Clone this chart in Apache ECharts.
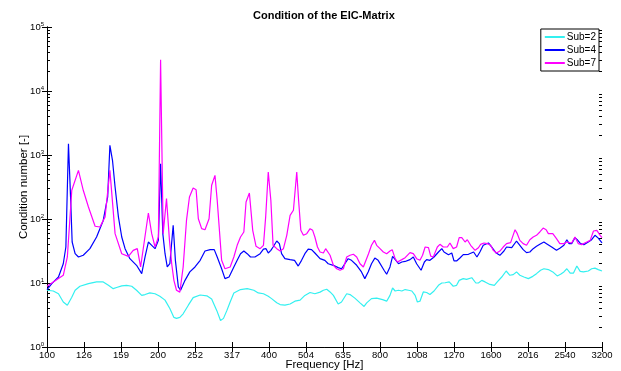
<!DOCTYPE html>
<html>
<head>
<meta charset="utf-8">
<script src="https://cdn.jsdelivr.net/npm/echarts@6/dist/echarts.min.js"></script>
<style>
html,body{margin:0;padding:0;background:#fff;}
#chart{width:621px;height:371px;}
</style>
</head>
<body>
<div id="chart"></div>
<script>
// x = position on the third-octave frequency axis (0 = 100 Hz, 15 = 3200 Hz)
var tickLabels = ['100','126','159','200','252','317','400','504','635','800','1008','1270','1600','2016','2540','3200'];
var seriesNames = ['Sub=2','Sub=4','Sub=7'];
var seriesColors = ['#33f0f0','#0000ff','#ff00ff'];

var sub2 = [[0,7.7],[0.17,7.5],[0.31,6.8],[0.44,5.05],[0.55,4.5],[0.60,4.6],[0.67,6.0],[0.76,7.7],[0.89,8.9],[1.12,9.8],
  [1.34,10.4],[1.52,10.4],[1.66,9.2],[1.79,8.15],[1.88,8.5],[2.02,9.0],[2.15,9.2],[2.29,8.9],[2.42,7.7],[2.56,6.4],
  [2.65,6.6],[2.78,7.0],[2.92,6.8],[3.05,6.2],[3.19,5.4],[3.32,4.0],[3.43,2.9],[3.50,2.8],[3.59,2.9],[3.68,3.3],
  [3.82,4.5],[3.95,5.9],[4.14,6.5],[4.32,6.3],[4.45,5.6],[4.59,3.7],[4.69,2.6],[4.77,2.8],[4.86,3.7],[4.95,5.05],
  [5.05,7.0],[5.23,7.9],[5.41,8.15],[5.59,7.7],[5.71,7.0],[5.85,6.8],[5.98,6.2],[6.07,5.7],[6.21,4.9],[6.30,4.6],
  [6.43,4.5],[6.57,4.7],[6.70,5.2],[6.84,5.4],[6.97,6.4],[7.11,7.1],[7.24,6.8],[7.38,7.2],[7.47,7.7],[7.56,8.0],
  [7.65,7.25],[7.74,6.4],[7.87,4.7],[7.96,5.05],[8.10,6.8],[8.19,6.6],[8.32,5.8],[8.46,4.9],[8.57,4.3],[8.64,4.9],
  [8.77,5.7],[8.91,5.8],[9.07,5.5],[9.18,5.2],[9.27,6.4],[9.34,8.35],[9.41,7.5],[9.50,7.7],[9.59,7.5],[9.68,7.9],
  [9.77,7.7],[9.86,7.5],[9.95,6.4],[10.01,5.05],[10.08,5.2],[10.17,7.25],[10.26,7.1],[10.35,6.6],[10.46,7.5],[10.58,9.2],
  [10.67,10],[10.76,10.1],[10.87,10.4],[10.98,8.9],[11.07,9.2],[11.14,11],[11.25,11.7],[11.34,11.4],[11.48,12.1],[11.59,10],
  [11.66,10],[11.75,11],[11.84,10.4],[11.97,9.5],[12.09,9.2],[12.17,10.4],[12.29,12.4],[12.41,15.4],[12.51,13.2],[12.60,13.5],
  [12.69,14.9],[12.78,13.2],[12.89,12.4],[13.01,11.7],[13.13,12.7],[13.23,14],[13.34,15.8],[13.43,16.7],[13.55,16.2],[13.67,14.9],
  [13.79,12.9],[13.88,13.7],[13.97,14.9],[14.05,16.7],[14.14,14.3],[14.23,14.3],[14.32,18.4],[14.41,15.2],[14.50,14.9],[14.63,15.4],
  [14.72,16.7],[14.81,17.1],[14.90,16.2],[15,15.4]];

var sub4 = [[0,7.9],[0.13,9.8],[0.31,12.4],[0.44,20],[0.51,36.5],[0.58,1500],[0.64,196],[0.68,43.7],[0.76,28.7],[0.85,25.5],
  [0.98,27.1],[1.16,34.4],[1.34,52.3],[1.52,95],[1.64,221],[1.70,1416],[1.77,826],[1.84,316],[1.93,108],[2.02,52.3],
  [2.11,34.4],[2.24,24],[2.42,18.9],[2.56,14],[2.65,25.5],[2.74,43.7],[2.83,38.8],[2.92,34.4],[3.01,46.4],[3.07,732],
  [3.13,59],[3.19,28.7],[3.25,17.8],[3.32,20],[3.41,79.6],[3.47,22.6],[3.55,8.7],[3.61,7.7],[3.73,11],[3.86,14.9],
  [4.0,17.8],[4.14,22.6],[4.27,31.6],[4.41,33.2],[4.52,33.2],[4.60,25.5],[4.72,16.7],[4.81,11.7],[4.92,12.4],[5.05,17.8],
  [5.14,22.6],[5.23,28.7],[5.32,31.6],[5.41,28.7],[5.50,25.5],[5.62,25.5],[5.76,28.7],[5.85,33.8],[5.92,34.4],[5.98,29.4],
  [6.05,32.4],[6.11,36.5],[6.21,45.3],[6.28,41.2],[6.34,28.7],[6.43,24],[6.57,23.2],[6.69,22.6],[6.79,18.4],[6.88,22.6],
  [6.97,28.7],[7.06,33.8],[7.15,33.2],[7.24,29.4],[7.38,24],[7.51,22.6],[7.60,20],[7.74,18.9],[7.87,17.4],[7.96,16.7],
  [8.05,20],[8.14,24],[8.23,22.6],[8.37,18.9],[8.50,14.9],[8.59,11.7],[8.68,14.9],[8.77,20],[8.86,24.5],[8.95,22.6],
  [9.0,21.3],[9.11,15.8],[9.18,13.7],[9.27,17.8],[9.34,26.1],[9.43,22.6],[9.50,20],[9.59,21.3],[9.68,21.7],[9.81,23.2],
  [9.90,25.5],[9.99,20],[10.11,15.8],[10.20,21.3],[10.26,23.2],[10.35,22.6],[10.46,25.5],[10.58,30.5],[10.67,34.4],[10.73,30.5],
  [10.85,27.7],[10.94,29.4],[11.0,22.1],[11.07,22.1],[11.16,24.6],[11.25,27.7],[11.39,28.1],[11.53,30.5],[11.62,25.5],[11.70,30.5],
  [11.79,38.8],[11.93,42.2],[12.02,36.5],[12.14,29.4],[12.24,27.1],[12.35,31.6],[12.42,36.5],[12.56,35.6],[12.69,45.3],[12.78,38.8],
  [12.87,33.2],[12.96,29.8],[13.05,30.5],[13.14,34.4],[13.23,37.4],[13.32,40.2],[13.43,43.7],[13.50,41.2],[13.64,36.5],[13.77,32.4],
  [13.86,34.8],[13.97,38.8],[14.05,47.5],[14.11,41.2],[14.18,41.2],[14.27,51.1],[14.33,47.5],[14.42,41.2],[14.51,39.8],[14.63,43.7],
  [14.72,47.5],[14.81,55.6],[14.90,50.3],[15,42.2]];

var sub7 = [[0,8.9],[0.17,10.4],[0.44,13.2],[0.55,25.5],[0.67,281],[0.85,575],[0.98,281],[1.12,154],[1.30,77],[1.43,75],
  [1.57,108],[1.70,575],[1.84,59],[2.02,28.7],[2.20,26.1],[2.33,32.4],[2.44,34.4],[2.53,17.8],[2.74,124],[2.83,59],
  [2.92,36.5],[3.01,52.3],[3.07,30900],[3.14,59],[3.23,208],[3.31,46.4],[3.37,20],[3.43,11],[3.50,7.7],[3.59,7.2],
  [3.68,17.8],[3.77,95],[3.85,221],[3.95,305],[4.03,287],[4.09,101],[4.18,70.6],[4.27,68],[4.38,101],[4.45,336],
  [4.54,481],[4.60,196],[4.72,22.6],[4.81,16.7],[4.95,17.8],[5.05,25.5],[5.14,38.8],[5.23,52.3],[5.32,62.7],[5.38,184],
  [5.47,255],[5.56,66.5],[5.65,37.4],[5.76,34.4],[5.85,38.8],[5.91,108],[5.98,542],[6.05,196],[6.11,38.8],[6.21,34.4],
  [6.30,31.6],[6.39,34.4],[6.48,55.6],[6.57,114],[6.66,137],[6.75,542],[6.80,196],[6.86,66.5],[6.93,55.6],[7.02,59],
  [7.11,70.6],[7.18,66.5],[7.24,52.3],[7.31,36.5],[7.38,30.5],[7.47,29.4],[7.53,34.4],[7.65,27.1],[7.74,18.9],[7.83,16.7],
  [7.92,15.8],[8.01,16.7],[8.10,25.5],[8.19,27.1],[8.28,28.1],[8.37,25.5],[8.46,20],[8.55,17.8],[8.69,28.7],[8.77,38.8],
  [8.85,46.4],[8.91,38.8],[9.0,34.4],[9.09,30.5],[9.18,28.7],[9.27,31.6],[9.33,33.2],[9.41,24],[9.47,21.3],[9.59,23.2],
  [9.68,24.9],[9.81,29.8],[9.90,28.7],[9.99,24],[10.08,22.6],[10.15,27.1],[10.22,36.5],[10.31,35.6],[10.37,26.3],[10.44,25.5],
  [10.55,36.5],[10.62,40.2],[10.71,36.5],[10.82,36.5],[10.89,42.2],[10.98,34.4],[11.07,36.5],[11.14,51.1],[11.21,51.1],[11.30,43.7],
  [11.36,47.5],[11.45,38.8],[11.57,32.4],[11.66,35.6],[11.72,40.2],[11.81,42.2],[11.90,41.2],[11.99,38.8],[12.06,32.4],[12.15,29.4],
  [12.24,31.6],[12.33,36.5],[12.42,41.2],[12.53,42.7],[12.65,68.1],[12.71,59],[12.78,46.4],[12.87,41.2],[12.96,38.8],[13.05,47.5],
  [13.14,52.3],[13.23,55.6],[13.32,62.7],[13.41,72.3],[13.49,68.1],[13.55,59],[13.67,59],[13.77,49.3],[13.86,41.2],[13.97,41.2],
  [14.05,43.7],[14.18,42.2],[14.27,52.3],[14.36,41.2],[14.45,39.8],[14.59,43.7],[14.68,46.4],[14.77,64.9],[14.86,66.5],[14.95,55.6],
  [15,51.1]];

var chart = echarts.init(document.getElementById('chart'));

// minor tick marks (2..9 in each decade), placed on a hidden linear axis in log10 units
var minorVals = [];
for (var d = 0; d < 5; d++) {
    for (var m = 2; m < 10; m++) minorVals.push(d + Math.log10(m));
}

var fontName = 'Liberation Sans';
var frame = {show: true, lineStyle: {color: '#000', width: 1}};

function yAxisBase(pos, withLabels){
    return {
        type: 'log',
        logBase: 10,
        min: 1,
        max: 100000,
        position: pos,
        axisLine: frame,
        axisTick: {show: true, inside: true, length: 5, lineStyle: {color: '#000'}},
        splitLine: {show: false},
        axisLabel: {show: withLabels}
    };
}

var yMain = yAxisBase('left', true);
yMain.name = 'Condition number [-]';
yMain.nameLocation = 'middle';
yMain.nameGap = 17;
yMain.nameMoveOverlap = false;
yMain.nameTextStyle = {fontFamily: fontName, fontSize: 11.5, color: '#000'};
yMain.axisLabel = {
    show: true,
    margin: 3,
    formatter: function(v){
        return '{b|10}{s|' + Math.round(Math.log10(v)) + '}';
    },
    rich: {
        b: {fontFamily: fontName, fontSize: 9.5, color: '#000'},
        s: {fontFamily: fontName, fontSize: 6, color: '#000', verticalAlign: 'bottom', padding: [0, 0, 6, 0]}
    }
};

function minorAxis(pos){
    return {
        type: 'value', min: 0, max: 5, position: pos,
        axisLine: {show: false}, splitLine: {show: false}, axisLabel: {show: false},
        axisTick: {show: true, inside: true, length: 3, customValues: minorVals, lineStyle: {color: '#000'}}
    };
}

option = {
    backgroundColor: '#fff',
    animation: false,
    title: {
        text: 'Condition of the EIC-Matrix',
        left: 248,
        top: 5,
        textStyle: {fontFamily: fontName, fontSize: 11, fontWeight: 'bold', color: '#000'}
    },
    legend: {
        data: seriesNames,
        orient: 'vertical',
        right: 22,
        top: 29,
        backgroundColor: '#fff',
        borderColor: '#000',
        borderWidth: 1,
        padding: [3, 3, 3, 4],
        itemGap: 3,
        itemWidth: 20,
        itemHeight: 2,
        icon: 'rect',
        textStyle: {fontFamily: fontName, fontSize: 10, color: '#000', padding: [0, 0, 0, -3]}
    },
    grid: {left: 47, right: 19, top: 27, bottom: 24, outerBoundsMode: 'none', containLabel: false},
    xAxis: [{
        type: 'value',
        min: 0,
        max: 15,
        interval: 1,
        name: 'Frequency [Hz]',
        nameLocation: 'middle',
        nameGap: 12,
        nameMoveOverlap: false,
        nameTextStyle: {fontFamily: fontName, fontSize: 11.5, color: '#000'},
        axisLine: frame,
        axisTick: {show: true, inside: true, length: 5, lineStyle: {color: '#000'}},
        splitLine: {show: false},
        axisLabel: {
            margin: 3,
            fontFamily: fontName,
            fontSize: 9.5,
            color: '#000',
            formatter: function(v){ return tickLabels[Math.round(v)]; }
        }
    }, {
        type: 'value',
        min: 0,
        max: 15,
        interval: 1,
        position: 'top',
        axisLine: frame,
        axisTick: {show: true, inside: true, length: 5, lineStyle: {color: '#000'}},
        splitLine: {show: false},
        axisLabel: {show: false}
    }],
    yAxis: [yMain, yAxisBase('right', false), minorAxis('left'), minorAxis('right')],
    series: [sub2, sub4, sub7].map(function(data, i){
        return {
            name: seriesNames[i],
            type: 'line',
            data: data,
            showSymbol: false,
            symbol: 'none',
            lineStyle: {color: seriesColors[i], width: 1.2},
            itemStyle: {color: seriesColors[i]}
        };
    })
};

chart.setOption(option);
</script>
</body>
</html>
